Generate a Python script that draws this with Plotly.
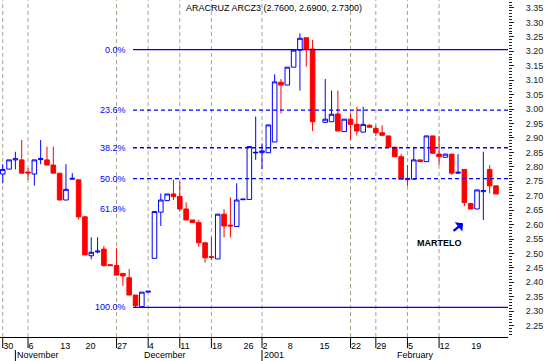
import plotly.graph_objects as go

# ---------------- data ----------------
days = [
    "2000-10-30", "2000-10-31",
    "2000-11-01", "2000-11-03", "2000-11-06", "2000-11-07", "2000-11-08", "2000-11-09", "2000-11-10",
    "2000-11-13", "2000-11-14", "2000-11-16", "2000-11-17", "2000-11-20", "2000-11-21", "2000-11-22",
    "2000-11-23", "2000-11-24", "2000-11-27", "2000-11-28", "2000-11-29", "2000-11-30",
    "2000-12-01", "2000-12-04", "2000-12-05", "2000-12-06", "2000-12-07", "2000-12-08", "2000-12-11",
    "2000-12-12", "2000-12-13", "2000-12-14", "2000-12-15", "2000-12-18", "2000-12-19", "2000-12-20",
    "2000-12-21", "2000-12-22", "2000-12-26", "2000-12-27", "2000-12-28",
    "2001-01-02", "2001-01-03", "2001-01-04", "2001-01-05", "2001-01-08", "2001-01-09", "2001-01-10",
    "2001-01-11", "2001-01-12", "2001-01-15", "2001-01-16", "2001-01-17", "2001-01-18", "2001-01-19",
    "2001-01-22", "2001-01-23", "2001-01-24", "2001-01-26", "2001-01-29", "2001-01-30", "2001-01-31",
    "2001-02-01", "2001-02-02", "2001-02-05", "2001-02-06", "2001-02-07", "2001-02-08", "2001-02-09",
    "2001-02-12", "2001-02-13", "2001-02-14", "2001-02-15", "2001-02-16", "2001-02-19", "2001-02-20",
    "2001-02-21", "2001-02-22", "2001-02-23",
]

opens = [2.775, 2.792, 2.824, 2.824, 2.782, 2.775, 2.825, 2.824, 2.806, 2.778,
         2.685, 2.757, 2.755, 2.627, 2.492, 2.505, 2.515, 2.461, 2.458, 2.431,
         2.416, 2.356, 2.316, 2.366, 2.483, 2.643, 2.683, 2.706, 2.697, 2.654,
         2.616, 2.607, 2.537, 2.489, 2.481, 2.636, 2.598, 2.593, 2.686, 2.687,
         2.848, 2.849, 2.849, 2.886, 3.093, 3.083, 3.145, 3.204, 3.247, 3.208,
         None, 2.954, 2.956, 2.983, 2.922, 2.965, 2.947, 2.920, 2.944, 2.933,
         2.918, 2.907, 2.868, 2.835, 2.760, 2.757, 2.824, 2.818, 2.907, 2.844,
         2.833, 2.844, 2.778, 2.791, 2.673, 2.654, 2.714, 2.791, 2.734]
highs = [2.809, 2.824, 2.852, 2.893, 2.795, 2.824, 2.893, 2.870, 2.870, 2.778,
         2.809, 2.778, 2.755, 2.627, 2.556, 2.556, 2.526, 2.461, 2.518, 2.431,
         2.446, 2.356, 2.366, 2.370, 2.645, 2.708, 2.706, 2.755, 2.749, 2.677,
         2.616, 2.616, 2.537, 2.556, 2.636, 2.653, 2.694, 2.743, 2.688, 2.870,
         2.974, 2.881, 2.945, 3.120, 3.104, 3.145, 3.205, 3.262, 3.247, 3.239,
         None, 3.104, 3.064, 3.064, 2.965, 2.985, 3.008, 3.008, 2.947, 2.944,
         2.944, 2.907, 2.868, 2.844, 2.806, 2.868, 2.824, 2.907, 2.907, 2.907,
         2.844, 2.844, 2.844, 2.791, 2.673, 2.720, 2.852, 2.806, 2.734]
lows = [2.743, 2.792, 2.791, 2.778, 2.755, 2.735, 2.809, 2.806, 2.778, 2.685,
        2.685, 2.757, 2.618, 2.495, 2.480, 2.500, 2.454, 2.457, 2.425, 2.388,
        2.356, 2.314, 2.314, 2.366, 2.483, 2.595, 2.683, 2.685, 2.645, 2.616,
        2.607, 2.523, 2.468, 2.477, 2.481, 2.556, 2.556, 2.593, 2.686, 2.687,
        2.824, 2.792, 2.849, 2.886, 2.985, 3.083, 3.145, 3.064, 3.147, 2.924,
        None, 2.954, 2.956, 2.924, 2.922, 2.893, 2.908, 2.920, 2.937, 2.907,
        2.907, 2.868, 2.835, 2.757, 2.734, 2.757, 2.818, 2.818, 2.847, 2.806,
        2.833, 2.772, 2.775, 2.664, 2.654, 2.654, 2.616, 2.708, 2.706]
closes = [2.791, 2.824, 2.828, 2.778, 2.779, 2.824, 2.828, 2.806, 2.778, 2.685,
          2.722, 2.760, 2.627, 2.495, 2.504, 2.508, 2.458, 2.458, 2.425, 2.422,
          2.356, 2.319, 2.366, 2.369, 2.645, 2.685, 2.706, 2.697, 2.654, 2.616,
          2.607, 2.537, 2.485, 2.486, 2.636, 2.595, 2.595, 2.685, 2.688, 2.870,
          2.850, 2.855, 2.945, 3.094, 3.083, 3.145, 3.204, 3.245, 3.208, 2.956,
          None, 2.965, 2.982, 2.924, 2.965, 2.947, 2.924, 2.947, 2.937, 2.918,
          2.909, 2.868, 2.835, 2.757, 2.755, 2.824, 2.818, 2.907, 2.847, 2.835,
          2.844, 2.778, 2.781, 2.676, 2.654, 2.720, 2.718, 2.734, 2.706]

tick_days = ["2000-10-30", "2000-11-06", "2000-11-13", "2000-11-20", "2000-11-27", "2000-12-04",
             "2000-12-11", "2000-12-18", "2000-12-26", "2001-01-02", "2001-01-08", "2001-01-15",
             "2001-01-22", "2001-01-29", "2001-02-05", "2001-02-12", "2001-02-19"]
tick_labels = ["30", "6", "13", "20", "27", "4", "11", "18", "26", "2", "8", "15",
               "22", "29", "5", "12", "19"]
grid_days = ["2000-10-30", "2000-11-06", "2000-11-27", "2000-12-04", "2000-12-11", "2000-12-18",
             "2001-01-02", "2001-01-22", "2001-01-29", "2001-02-05", "2001-02-12"]
month_days = ["2000-11-01", "2000-12-01", "2001-01-02", "2001-02-01"]
month_labels = ["November", "December", "2001", "February"]
month_sep_days = ["2000-11-01", "2001-01-02"]

fib_labels = ["0.0%", "23.6%", "38.2%", "50.0%", "61.8%", "100.0%"]
fib_values = [3.206, 2.996, 2.866, 2.759, 2.655, 2.313]
fib_styles = ["solid", "dash", "dash", "dash", None, "solid"]
fib_start_day = "2000-11-30"

title_text = "ARACRUZ ARCZ3 (2.7600, 2.6900, 2.7300)"
note_text = "MARTELO"
note_day = "2001-02-13"
note_value = 2.536
arrow_day = "2001-02-15"
arrow_value = 2.605

# ---------------- figure ----------------
pos = {d: i for i, d in enumerate(days)}
valid = [i for i in range(len(days)) if opens[i] is not None]

BLUE = "#0000ff"
RED = "#ff0000"
FONT = "Liberation Sans"
PH = 337.0  # plot-area height in px

fig = go.Figure(go.Candlestick(
    x=valid,
    open=[opens[i] for i in valid],
    high=[highs[i] for i in valid],
    low=[lows[i] for i in valid],
    close=[closes[i] for i in valid],
    increasing=dict(line=dict(color=BLUE, width=1), fillcolor="#ffffff"),
    decreasing=dict(line=dict(color=RED, width=1), fillcolor=RED),
    whiskerwidth=0,
    hoverinfo="skip",
))

shapes = []
for d in grid_days:
    x = pos[d]
    shapes.append(dict(type="line", xref="x", yref="paper", x0=x, x1=x, y0=0, y1=1,
                       line=dict(color="#a8a48c", width=1, dash="4px,3px"), layer="below"))
    shapes.append(dict(type="line", xref="x", yref="paper", x0=x, x1=x, y0=-11 / PH, y1=0,
                       line=dict(color="#000000", width=1)))
for d in month_sep_days:
    x = pos[d]
    shapes.append(dict(type="line", xref="x", yref="paper", x0=x, x1=x, y0=-24 / PH, y1=-13 / PH,
                       line=dict(color="#000000", width=1)))

annotations = []
fx = pos[fib_start_day] - 0.4
for lab, val, sty in zip(fib_labels, fib_values, fib_styles):
    if sty is not None:
        shapes.append(dict(type="line", xref="x", yref="y", x0=fx, x1=79.9, y0=val, y1=val,
                           line=dict(color=BLUE, width=1.3,
                                     dash="solid" if sty == "solid" else "4px,3px"),
                           layer="above"))
    annotations.append(dict(x=fx, y=val, xref="x", yref="y", text=lab, showarrow=False,
                            xanchor="right", yanchor="middle", xshift=-5,
                            font=dict(family=FONT, size=9, color=BLUE)))

for d, lab in zip(month_days, month_labels):
    annotations.append(dict(x=pos[d], y=-18 / PH, xref="x", yref="paper", text=lab,
                            showarrow=False, xanchor="left", yanchor="middle", xshift=0,
                            font=dict(family=FONT, size=9, color="#000000")))

annotations.append(dict(x=184 / 508, y=1 - 8 / PH, xref="paper", yref="paper", text=title_text,
                        showarrow=False, xanchor="left", yanchor="middle",
                        font=dict(family=FONT, size=9, color="#000000")))
annotations.append(dict(x=pos[note_day] - 1, y=note_value, xref="x", yref="y",
                        text="<b>" + note_text + "</b>", showarrow=False,
                        xanchor="center", yanchor="middle",
                        font=dict(family=FONT, size=9, color="#000000")))
annotations.append(dict(x=pos[arrow_day] + 0.8, y=arrow_value, xref="x", yref="y", text="",
                        showarrow=True, ax=-11, ay=9, axref="pixel", ayref="pixel",
                        arrowcolor=BLUE, arrowwidth=2.5, arrowhead=1, arrowsize=0.8,
                        standoff=0, startstandoff=0))

fig.update_layout(
    width=556, height=361,
    margin=dict(l=0, r=48, t=0, b=24, pad=0, autoexpand=False),
    paper_bgcolor="#ffffff", plot_bgcolor="#ffffff",
    showlegend=False,
    font=dict(family=FONT, size=9, color="#000000"),
    boxgap=0.15, boxgroupgap=0.15,
    shapes=shapes, annotations=annotations,
    xaxis=dict(
        range=[-0.43, 79.9], rangeslider=dict(visible=False),
        showgrid=False, zeroline=False, automargin=False,
        tickmode="array", tickvals=[pos[d] for d in tick_days], ticktext=tick_labels,
        ticks="", ticklabelposition="outside right",
        tickfont=dict(family=FONT, size=9, color="#000000"),
        showline=True, linecolor="#000000", linewidth=1,
        fixedrange=True,
    ),
    yaxis=dict(
        side="right", range=[2.2107, 3.3776], automargin=False,
        tick0=2.25, dtick=0.05, tickformat=".2f",
        ticks="outside", ticklen=5, tickcolor="#222222", tickwidth=1,
        minor=dict(dtick=0.01, ticks="outside", ticklen=3, tickcolor="#222222"),
        showgrid=False, zeroline=False, showline=False,
        tickfont=dict(family=FONT, size=9, color="#222222"),
        ticklabelstandoff=10,
        fixedrange=True,
    ),
)

fig.write_html(
    "out.html",
    config={"displayModeBar": False},
    post_script="document.body.style.margin='0px';document.body.style.overflow='hidden';",
)
